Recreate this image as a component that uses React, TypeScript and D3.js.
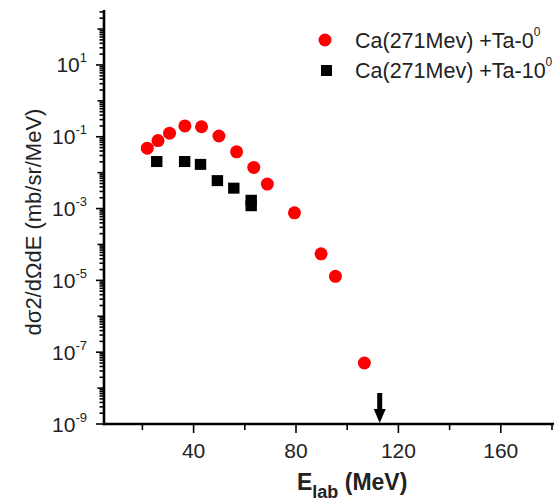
import React from "react";
import * as d3 from "d3";

// Ca(271 MeV) + Ta, 0 degrees
const energy0 = [21.9, 26.1, 30.6, 36.6, 43.1, 49.9, 56.8, 63.5, 68.8, 79.4, 89.8, 95.4, 106.7];
const sigma0 = [0.048, 0.078, 0.126, 0.2, 0.19, 0.105, 0.038, 0.014, 0.0048, 0.00076, 5.5e-5, 1.3e-5, 5.0e-8];

// Ca(271 MeV) + Ta, 10 degrees
const energy10 = [25.6, 36.5, 42.7, 49.3, 55.7, 62.5, 62.5];
const sigma10 = [0.0204, 0.0204, 0.017, 0.006, 0.0037, 0.0017, 0.0012];

const seriesLabels = ["Ca(271Mev) +Ta-0", "Ca(271Mev) +Ta-10"];
const xTicks = [40, 80, 120, 160];
const xMinorTicks = [20, 60, 100, 140, 180];
const arrowEnergy = 112.7;

const W = 556;
const H = 503;
const margin = { top: 10, right: 4, bottom: 79, left: 104 };
const font = "'Liberation Sans', Arial, sans-serif";

export default function App() {
  const x = d3.scaleLinear().domain([5, 180]).range([margin.left, W - margin.right]);
  const y = d3
    .scaleLog()
    .domain([1e-9, Math.pow(10, 2.53)])
    .range([H - margin.bottom, margin.top]);

  const x0 = margin.left;
  const y0 = H - margin.bottom;
  const yTicks = y.ticks(30);

  const pts0 = energy0.map((e, i) => ({ e, s: sigma0[i] }));
  const pts10 = energy10.map((e, i) => ({ e, s: sigma10[i] }));

  return (
    <svg
      width={W}
      height={H}
      style={{ position: "absolute", left: 0, top: 0, background: "#fff" }}
      fontFamily={font}
    >
      {/* y ticks */}
      {yTicks.map((t) => {
        const exp = Math.round(Math.log10(t));
        const isDecade = Math.abs(t / Math.pow(10, exp) - 1) < 1e-6;
        const labeled = isDecade && Math.abs(exp % 2) === 1;
        const len = labeled ? 8 : isDecade ? 6.5 : 4.5;
        const yy = y(t);
        return (
          <g key={"yt" + t}>
            <line x1={x0 - len} x2={x0} y1={yy} y2={yy} stroke="#000" strokeWidth={1.6} />
            {labeled && (
              <text x={x0 - 17} y={yy + 7.5} fontSize={21} textAnchor="end" fill="#222">
                10
                <tspan fontSize={13} dy={-10}>
                  {exp}
                </tspan>
              </text>
            )}
          </g>
        );
      })}

      {/* x ticks */}
      {xTicks.map((t) => (
        <g key={"xt" + t}>
          <line x1={x(t)} x2={x(t)} y1={y0} y2={y0 + 9} stroke="#000" strokeWidth={1.6} />
          <text x={x(t)} y={y0 + 34} fontSize={21} textAnchor="middle" fill="#222">
            {t}
          </text>
        </g>
      ))}
      {xMinorTicks.map((t) => (
        <line key={"xm" + t} x1={x(t)} x2={x(t)} y1={y0} y2={y0 + 6} stroke="#000" strokeWidth={1.6} />
      ))}

      {/* axes */}
      <line x1={x0} x2={x0} y1={margin.top} y2={y0 + 1.2} stroke="#000" strokeWidth={2.6} />
      <line x1={x0 - 1.3} x2={W - 2} y1={y0} y2={y0} stroke="#000" strokeWidth={2.6} />

      {/* data */}
      {pts0.map((d, i) => (
        <circle key={"c" + i} cx={x(d.e)} cy={y(d.s)} r={6.5} fill="#ff0000" />
      ))}
      {pts10.map((d, i) => (
        <rect key={"s" + i} x={x(d.e) - 5.7} y={y(d.s) - 5.5} width={11.4} height={11} fill="#000" />
      ))}

      {/* arrow */}
      <g>
        <rect x={x(arrowEnergy) - 2.5} y={y0 - 31} width={5} height={18} fill="#000" />
        <path
          d={`M${x(arrowEnergy) - 6},${y0 - 15} L${x(arrowEnergy) + 6},${y0 - 15} L${x(arrowEnergy)},${y0 - 1} Z`}
          fill="#000"
        />
      </g>

      {/* legend */}
      <circle cx={325} cy={40} r={6.5} fill="#ff0000" />
      <text x={355} y={48} fontSize={21.5} fill="#222">
        {seriesLabels[0]}
        <tspan fontSize={12} dy={-12}>0</tspan>
      </text>
      <rect x={321} y={65} width={11} height={11} fill="#000" />
      <text x={355} y={78} fontSize={21.5} fill="#222">
        {seriesLabels[1]}
        <tspan fontSize={12} dy={-12}>0</tspan>
      </text>

      {/* axis titles */}
      <text x={297} y={490} fontSize={23} fontWeight="bold" fill="#222">
        E
        <tspan fontSize={18} dy={8}>lab</tspan>
        <tspan dy={-8}> (MeV)</tspan>
      </text>
      <text
        transform={`translate(41,${222}) rotate(-90)`}
        fontSize={22}
        textAnchor="middle"
        fill="#222"
      >
        dσ2/dΩdE (mb/sr/MeV)
      </text>
    </svg>
  );
}
